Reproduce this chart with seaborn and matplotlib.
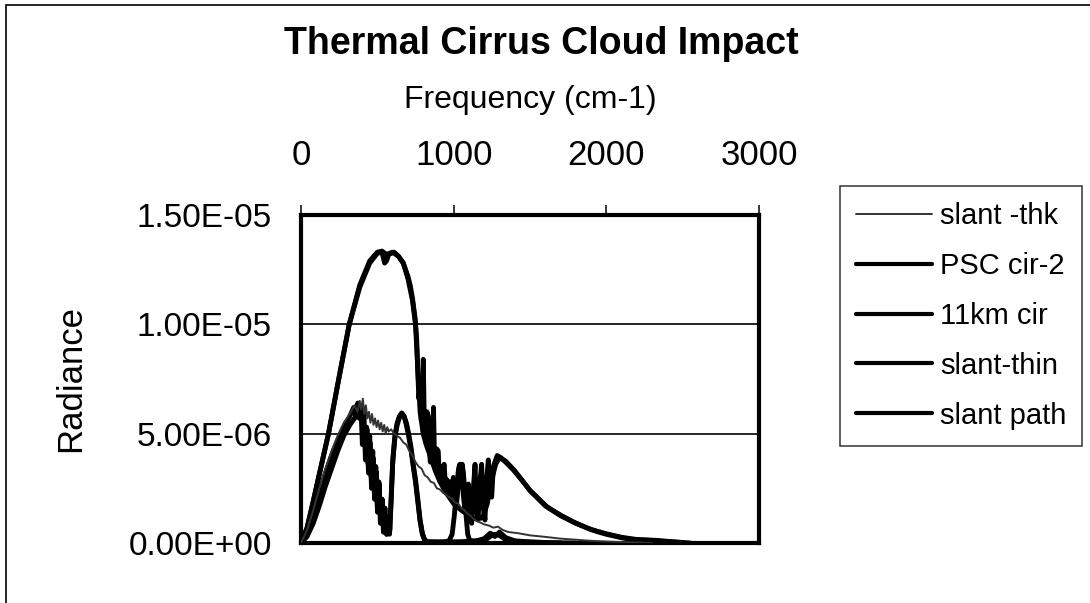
import matplotlib
matplotlib.use("Agg")

import numpy as np
import pandas as pd
import matplotlib.pyplot as plt
import seaborn as sns
from matplotlib.patches import Rectangle

# values, radiance in units of 1e-6
thk_x = [0, 40, 80, 120, 160, 200, 240, 280, 320, 350, 370, 385, 395, 405, 415, 425, 435, 445, 455, 465,
         475, 485, 495, 505, 515, 525, 535, 545, 555, 565, 575, 590, 610, 630, 650, 670, 690, 710, 730, 750,
         770, 790, 810, 830, 850, 870, 890, 910, 930, 950, 970, 990, 1010, 1030, 1050, 1070, 1090, 1110, 1130, 1150,
         1170, 1200, 1230, 1260, 1290, 1320, 1360, 1420, 1500, 1600, 1700, 1800, 1900, 2000, 2100, 2200, 2300]
thk_y = [0, 0.6, 1.5, 2.5, 3.4, 4.2, 4.9, 5.5, 5.9, 6.3, 6.0, 6.5, 6.1, 6.6, 5.9, 6.3, 5.7, 6.0, 5.5, 5.9,
         5.4, 5.7, 5.3, 5.6, 5.2, 5.5, 5.1, 5.4, 5.0, 5.3, 5.1, 5.2, 5.0, 4.9, 4.8, 4.6, 4.5, 4.2, 4.0, 3.7,
         3.5, 3.4, 3.1, 3.0, 2.8, 2.75, 2.5, 2.45, 2.3, 2.2, 2.1, 2.0, 1.85, 1.8, 1.6, 1.5, 1.35, 1.25, 1.1, 1.0,
         0.95, 0.85, 0.8, 0.7, 0.75, 0.6, 0.5, 0.45, 0.35, 0.28, 0.2, 0.15, 0.1, 0.07, 0.04, 0.02, 0.0]

psc_x = [0, 40, 80, 125, 180, 250, 316, 385, 450, 500, 530, 560, 600, 640, 670, 700, 730, 750, 765, 780,
         800, 820, 850, 880, 910, 950, 1000, 1050, 1100, 1150, 1190, 1220, 1250, 1275, 1300, 1340, 1400, 1500, 1600, 1700,
         1800, 1900, 2000, 2100, 2200, 2300, 2400, 2500]
psc_y = [0, 0.7, 1.9, 3.3, 5.0, 7.6, 10.0, 11.8, 12.9, 13.3, 13.35, 13.2, 13.3, 13.1, 12.8, 12.1, 11.1, 10.0, 8.0, 6.0,
         5.0, 4.5, 3.9, 3.3, 2.8, 2.3, 1.8, 1.5, 1.25, 1.1, 1.15, 1.8, 2.9, 3.6, 3.9, 3.75, 3.3, 2.4, 1.7, 1.25,
         0.9, 0.62, 0.42, 0.26, 0.16, 0.11, 0.06, 0.02]

km11_x = [0, 40, 80, 120, 160, 200, 240, 280, 320, 350, 375, 395, 410, 420, 430, 440, 450, 460, 470, 480,
          490, 500, 510, 520, 530, 540, 550, 560, 570, 580, 590, 600, 615, 630, 645, 660, 675, 690, 705, 720,
          735, 750, 765, 780, 795, 810, 830, 860, 900, 940, 970, 990, 1005, 1020, 1032, 1040, 1048, 1056, 1064, 1072,
          1082, 1092, 1105, 1130, 1170, 1210, 1240, 1270, 1300, 1330, 1370, 1450, 1600, 1800]
km11_y = [0, 0.3, 0.9, 1.7, 2.6, 3.4, 4.2, 4.9, 5.4, 5.7, 5.85, 5.8, 5.5, 4.4, 5.3, 3.6, 4.9, 3.0, 4.2, 2.4,
          3.5, 1.6, 2.8, 0.9, 2.0, 0.5, 1.6, 0.4, 1.2, 0.4, 2.0, 3.6, 4.8, 5.4, 5.75, 5.9, 5.8, 5.5, 5.0, 4.4,
          3.6, 2.9, 2.0, 1.05, 0.45, 0.15, 0.05, 0.05, 0.04, 0.05, 0.1, 0.4, 1.3, 2.6, 3.4, 3.6, 3.3, 3.6, 3.2, 2.4,
          1.2, 0.4, 0.12, 0.08, 0.1, 0.15, 0.3, 0.4, 0.35, 0.2, 0.1, 0.05, 0.02, 0.0]

thin_x = [0, 40, 80, 120, 160, 200, 240, 280, 320, 345, 360, 372, 382, 392, 402, 412, 422, 432, 442, 452,
          462, 472, 482, 492, 502, 512, 522, 532, 542, 552, 562, 572, 582, 592, 602, 615, 630, 645, 660, 675,
          690, 705, 720, 735, 750, 765, 780, 795, 810, 830, 870, 950, 1050, 1150, 1200, 1240, 1270, 1300, 1340, 1400,
          1500, 1700]
thin_y = [0, 0.5, 1.3, 2.3, 3.2, 4.0, 4.7, 5.3, 5.8, 6.2, 5.8, 6.4, 5.7, 6.3, 4.5, 6.0, 3.8, 5.2, 3.2, 4.6,
          2.5, 3.9, 2.0, 3.3, 1.4, 2.7, 1.0, 2.0, 0.5, 1.3, 0.4, 1.0, 0.6, 2.2, 3.9, 4.9, 5.5, 5.8, 5.95, 5.8,
          5.4, 4.9, 4.3, 3.5, 2.8, 1.9, 1.0, 0.4, 0.12, 0.05, 0.05, 0.05, 0.06, 0.1, 0.2, 0.45, 0.3, 0.5, 0.25, 0.1,
          0.05, 0.0]

path_x = [0, 40, 80, 125, 180, 250, 316, 385, 450, 500, 530, 548, 560, 575, 610, 640, 670, 700, 715, 730,
          747, 758, 765, 772, 780, 788, 795, 801, 808, 816, 825, 834, 840, 847, 855, 862, 868, 875, 882, 890,
          899, 906, 914, 921, 930, 938, 946, 955, 965, 975, 985, 998, 1008, 1019, 1030, 1041, 1052, 1063, 1074, 1085,
          1096, 1107, 1118, 1129, 1140, 1150, 1161, 1172, 1183, 1194, 1205, 1216, 1227, 1238, 1249, 1260, 1270, 1285, 1310, 1340,
          1390, 1450, 1500, 1560, 1610, 1670, 1720, 1780, 1830, 1890, 1940, 2000, 2050, 2100, 2160, 2220, 2270, 2330, 2380, 2430,
          2490, 2550]
path_y = [0, 0.7, 1.9, 3.3, 5.0, 7.6, 10.0, 11.7, 12.8, 13.25, 13.3, 12.8, 12.9, 13.2, 13.3, 13.1, 12.8, 12.2, 11.8, 11.2,
          10.3, 9.3, 7.8, 6.6, 7.2, 5.6, 6.5, 8.4, 5.4, 4.9, 6.0, 5.8, 4.4, 3.7, 5.1, 4.2, 6.2, 3.6, 3.3, 4.3,
          4.2, 3.0, 3.5, 2.7, 3.4, 3.6, 2.6, 2.9, 2.3, 2.8, 2.2, 3.0, 2.0, 1.8, 2.6, 3.0, 3.6, 2.2, 1.5, 2.1,
          2.7, 1.3, 0.9, 2.5, 3.6, 1.4, 1.2, 2.8, 3.6, 1.6, 1.05, 2.9, 3.8, 2.4, 2.1, 3.5, 3.7, 4.0, 3.9, 3.7,
          3.35, 2.85, 2.4, 2.0, 1.66, 1.4, 1.2, 0.98, 0.82, 0.64, 0.52, 0.4, 0.32, 0.24, 0.17, 0.15, 0.14, 0.12, 0.09, 0.06,
          0.03, 0.0]

series_names = ["slant -thk", "PSC cir-2", "11km cir", "slant-thin", "slant path"]
series_x = [thk_x, psc_x, km11_x, thin_x, path_x]
series_y = [thk_y, psc_y, km11_y, thin_y, path_y]

yticks = [0, 5e-6, 1e-5, 1.5e-5]
ytick_labels = ["0.00E+00", "5.00E-06", "1.00E-05", "1.50E-05"]
xticks = [0, 1000, 2000, 3000]

sns.set_style("white")
plt.rcParams["font.family"] = ["Liberation Sans", "DejaVu Sans"]
plt.rcParams["text.color"] = "black"
plt.rcParams["axes.labelcolor"] = "black"

W, H = 1090, 603
PX = 72 / 100  # points per pixel at dpi 100
fig = plt.figure(figsize=(W / 100, H / 100), dpi=100)
ax = fig.add_axes([301 / W, 1 - 543 / H, 458 / W, 328 / H])

styles = {
    "slant -thk": dict(color="#333333", lw=1.4, zorder=6),
    "PSC cir-2": dict(color="black", lw=3.5, zorder=4),
    "11km cir": dict(color="black", lw=3.5, zorder=4),
    "slant-thin": dict(color="black", lw=3.5, zorder=4),
    "slant path": dict(color="black", lw=3.5, zorder=4),
}

for name, xs, ys in zip(series_names, series_x, series_y):
    df = pd.DataFrame({"freq": xs, "rad": np.array(ys) * 1e-6})
    sns.lineplot(data=df, x="freq", y="rad", ax=ax, label=name, sort=False,
                 estimator=None, **styles[name])

ax.set_xlim(0, 3000)
ax.set_ylim(0, 1.5e-5)

ax.xaxis.tick_top()
ax.xaxis.set_label_position("top")
ax.set_xticks(xticks)
ax.set_xticklabels([str(t) for t in xticks])
ax.tick_params(axis="x", direction="out", length=10 * PX, width=1.1, pad=33 * PX,
               labelsize=25, colors="black")

ax.set_yticks(yticks)
ax.set_yticklabels(ytick_labels)
ax.tick_params(axis="y", direction="out", length=11 * PX, width=1.1, pad=18 * PX,
               labelsize=24, colors="black")

ax.yaxis.grid(True, color="black", lw=1.2)
ax.xaxis.grid(False)
for sp in ax.spines.values():
    sp.set_visible(True)
    sp.set_color("black")
    sp.set_linewidth(3)

ax.set_xlabel("Frequency (cm-1)", fontsize=23)
ax.xaxis.label.set_va("center")
ax.xaxis.set_label_coords(0.5, 1 + (215 - 100) / 328)

ax.set_ylabel("Radiance", fontsize=25)
ax.yaxis.label.set_va("center")
ax.yaxis.set_label_coords((71 - 301) / 458, 0.5)

ax.set_title("Thermal Cirrus Cloud Impact", fontsize=27, fontweight="bold",
             y=1 + (215 - 52) / 328, va="center", x=(541 - 301) / 458)

leg = ax.legend(loc="upper left", bbox_to_anchor=(840 / W, 1 - 186 / H),
                bbox_transform=fig.transFigure, fontsize=21, frameon=True,
                fancybox=False, edgecolor="black", handlelength=2.6,
                handletextpad=0.28, labelspacing=0.75,
                borderpad=0.55, borderaxespad=0)
leg.get_frame().set_linewidth(1.1)
for line in leg.get_lines():
    if line.get_label() != "slant -thk":
        line.set_linewidth(3)
for t in leg.get_texts():
    t.set_color("black")

# outer chart frame
fig.patches.append(Rectangle((6 / W, -0.05), 1.05, 1.05 - 5 / H,
                             transform=fig.transFigure, fill=False, lw=1.2,
                             ec="black"))

plt.savefig("out.png", dpi=100)
plt.close()
